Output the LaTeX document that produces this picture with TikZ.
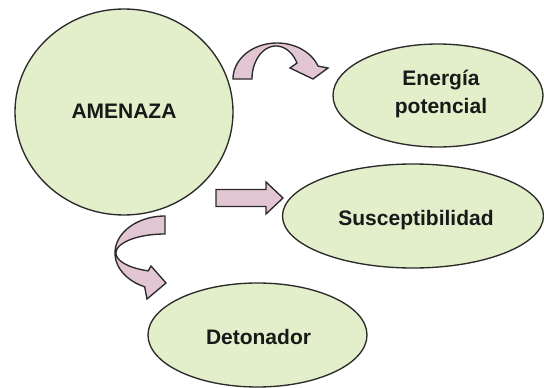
\documentclass[tikz,border=0pt]{standalone}
\usepackage{fontspec}
\setmainfont{Liberation Sans}
\usetikzlibrary{shapes.geometric}
\definecolor{leaf}{HTML}{E3EFCA}
\definecolor{blush}{HTML}{E2C6D4}
\definecolor{ink}{HTML}{2B2B2B}

\begin{document}
\begin{tikzpicture}[x=1pt,y=-1pt,
  topic/.style={ellipse, draw=ink, line width=1.35pt, fill=leaf, inner sep=0pt},
  caption/.style={inner sep=0pt, font=\fontsize{21}{28}\selectfont\bfseries,
    text=black!90, align=center},
  blockarrow/.style={draw=ink, line width=1.35pt, fill=blush, line join=miter}]
\useasboundingbox (0,0) rectangle (544,388);
\fill[white] (0,0) rectangle (544,388);

% main concept and its three components
\node[topic, minimum width=218pt, minimum height=206pt] (amenaza) at (124,112) {};
\node[topic, minimum width=210pt, minimum height=103pt] (energia) at (438,95.5) {};
\node[topic, minimum width=261pt, minimum height=104pt] (suscept) at (413,216) {};
\node[topic, minimum width=219pt, minimum height=104pt] (detona) at (257.5,335) {};

% their captions
\node[caption] (amenazaT) at ([shift={(0,-1)}]amenaza.center) {AMENAZA};
\node[caption] (energiaT) at ([shift={(3,-2)}]energia.center) {Energía\\potencial};
\node[caption] (susceptT) at ([shift={(3,4)}]suscept.center) {Susceptibilidad};
\node[caption] (detonaT) at ([shift={(1,2)}]detona.center) {Detonador};

% curved arrow towards "Energía potencial"
\draw[blockarrow] (233,79)
  -- plot[domain=180:21, samples=40, variable=\t] ({277+44*cos(\t)},{79-36*sin(\t)})
  -- (328,68) -- (313,79) -- (290,68)
  -- plot[domain=29:180, samples=40, variable=\t] ({276+24*cos(\t)},{79-33*sin(\t)})
  -- cycle;

% straight arrow towards "Susceptibilidad"
\draw[blockarrow] (216,189.5) -- (266,189.5) -- (266,182) -- (283,198)
  -- (266,214) -- (266,206.5) -- (216,206.5) -- cycle;

% curved arrow towards "Detonador"
\draw[blockarrow]
  plot[domain=90:246, samples=40, variable=\t] ({165+50*cos(\t)},{253-37*sin(\t)})
  -- (147,299) -- (166,283) -- (151,266)
  -- plot[domain=250:90, samples=40, variable=\t] ({165+49*cos(\t)},{253-19*sin(\t)})
  -- cycle;
\end{tikzpicture}
\end{document}
